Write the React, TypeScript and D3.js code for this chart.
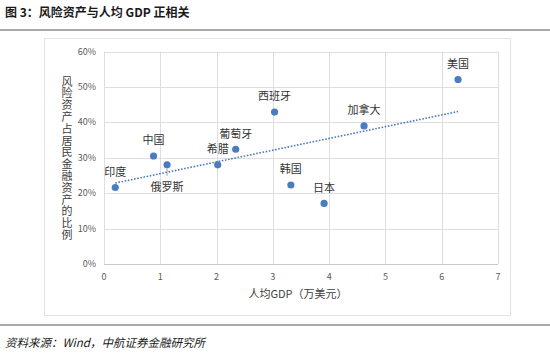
import React from "react";
import * as d3 from "d3";

const countries = ["印度", "中国", "俄罗斯", "希腊", "葡萄牙", "西班牙", "韩国", "日本", "加拿大", "美国"];
const gdpPerCapita = [0.2, 0.88, 1.12, 2.02, 2.34, 3.03, 3.32, 3.91, 4.62, 6.29];
const riskShare = [0.216, 0.305, 0.28, 0.28, 0.324, 0.429, 0.223, 0.171, 0.39, 0.521];
const xTicks = [0, 1, 2, 3, 4, 5, 6, 7];
const yTicks = [0, 0.1, 0.2, 0.3, 0.4, 0.5, 0.6];
const titleText = "图 3：风险资产与人均 GDP 正相关";
const sourceText = "资料来源：Wind，中航证券金融研究所";
const xAxisTitle = "人均GDP（万美元）";
const yAxisTitle = "风险资产占居民金融资产的比例";
const labelBelow = ["俄罗斯"];

const W = 550;
const H = 360;
const BLUE = "#4a7dbf";
const FONT = "'Noto Sans CJK SC', 'Noto Sans', sans-serif";

export default function App() {
  const x = d3.scaleLinear().domain([0, 7]).range([104, 498]);
  const y = d3.scaleLinear().domain([0, 0.6]).range([264, 51.5]);

  const n = gdpPerCapita.length;
  const mx = d3.mean(gdpPerCapita)!;
  const my = d3.mean(riskShare)!;
  let sxy = 0, sxx = 0;
  for (let i = 0; i < n; i++) {
    sxy += (gdpPerCapita[i] - mx) * (riskShare[i] - my);
    sxx += (gdpPerCapita[i] - mx) ** 2;
  }
  const slope = sxy / sxx;
  const intercept = my - slope * mx;
  const xMin = d3.min(gdpPerCapita)!;
  const xMax = d3.max(gdpPerCapita)!;
  const trend = d3.line<number>().x((d) => x(d)).y((d) => y(intercept + slope * d));

  const pct = d3.format(".0%");

  return (
    <svg width={W} height={H} style={{ position: "absolute", left: 0, top: 0, background: "#fff" }} fontFamily={FONT}>
      <rect x={0} y={0} width={W} height={H} fill="#fff" />
      <text x={5} y={17} fontSize={12} fontWeight="bold" fill="#1a1a1a">{titleText}</text>
      <line x1={0} x2={W} y1={30} y2={30} stroke="#8c8c8c" strokeWidth={1.5} />
      <rect x={44.5} y={38.5} width={466} height={277} fill="none" stroke="#e3e3e3" strokeWidth={1} />

      {/* grid */}
      {yTicks.map((t) => (
        <line key={"gy" + t} x1={x(0)} x2={x(7)} y1={Math.round(y(t)) + 0.5} y2={Math.round(y(t)) + 0.5}
          stroke={t === 0 ? "#c8c8c8" : "#dedede"} strokeWidth={1} />
      ))}
      {xTicks.map((t) => (
        <line key={"gx" + t} x1={Math.round(x(t)) + 0.5} x2={Math.round(x(t)) + 0.5} y1={y(0.6)} y2={y(0)}
          stroke="#dedede" strokeWidth={1} />
      ))}

      {/* tick labels */}
      {yTicks.map((t) => (
        <text key={"ty" + t} x={96} y={y(t)} dy="0.35em" textAnchor="end" fontSize={9} fill="#595959">{pct(t)}</text>
      ))}
      {xTicks.map((t) => (
        <text key={"tx" + t} x={x(t)} y={277} dy="0.35em" textAnchor="middle" fontSize={9} fill="#595959">{t}</text>
      ))}

      {/* axis titles */}
      <text x={298} y={294} dy="0.35em" textAnchor="middle" fontSize={11} fill="#404040">{xAxisTitle}</text>
      <text x={67} y={76} fontSize={11} fill="#404040" letterSpacing={0.8}
        style={{ writingMode: "vertical-rl" }}>{yAxisTitle}</text>

      {/* trend line */}
      <path d={trend([xMin, xMax]) || ""} fill="none" stroke={BLUE} strokeWidth={1.6} strokeDasharray="1.6,1.6" />

      {/* points */}
      {gdpPerCapita.map((g, i) => (
        <circle key={"p" + i} cx={x(g)} cy={y(riskShare[i])} r={3.6} fill={BLUE} />
      ))}

      {/* labels */}
      {countries.map((c, i) => {
        const px = x(gdpPerCapita[i]);
        const py = y(riskShare[i]);
        const below = labelBelow.includes(c);
        return (
          <g key={"l" + i}>
            {below && <line x1={px} x2={px} y1={py + 4} y2={py + 11} stroke="#8c8c8c" strokeWidth={0.8} />}
            <text x={px} y={below ? py + 22 : py - 15.5} dy="0.35em" textAnchor="middle" fontSize={11} fill="#333">{c}</text>
          </g>
        );
      })}

      <line x1={0} x2={W} y1={325} y2={325} stroke="#8c8c8c" strokeWidth={1.5} />
      <text x={5} y={347} fontSize={11.5} fontStyle="italic" fill="#1a1a1a">{sourceText}</text>
    </svg>
  );
}
